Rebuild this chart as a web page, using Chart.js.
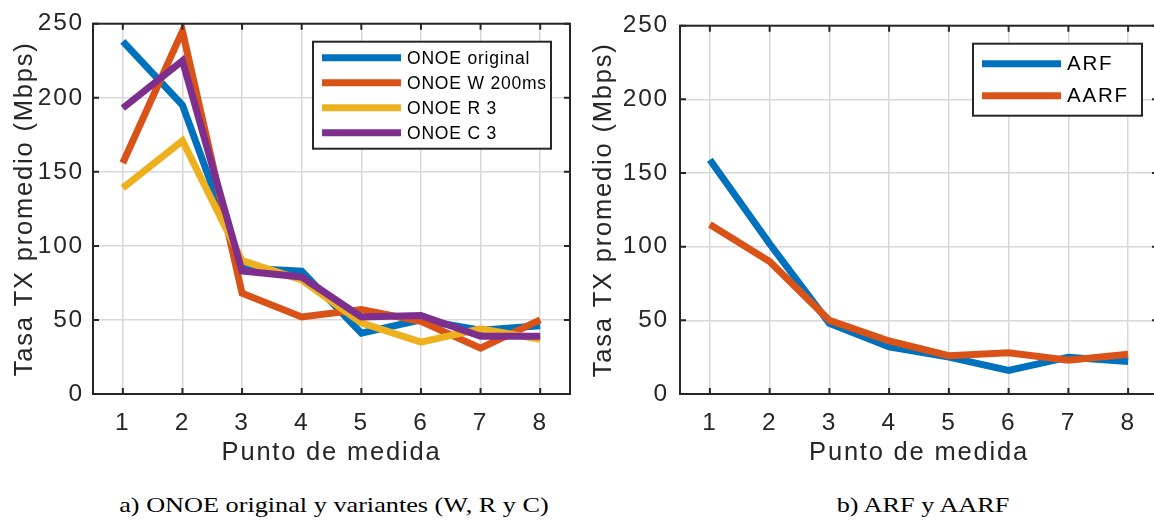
<!DOCTYPE html>
<html>
<head>
<meta charset="utf-8">
<script src="https://cdn.jsdelivr.net/npm/chart.js@4.4.1/dist/chart.umd.min.js"></script>
<style>
  html, body { margin: 0; padding: 0; background: #fff; overflow: hidden; width: 1154px; height: 520px; }
  .panel { position: absolute; top: 0; height: 470px; width: 600px; }
  #panelA { left: 0; }
  #panelB { left: 580px; }
  .pie {
    position: absolute; top: 490px; width: 600px; height: 30px; line-height: 30px;
    text-align: center; white-space: nowrap; color: #000;
    font-family: "Liberation Serif", "Times New Roman", serif; font-size: 21.5px;
    transform: scaleX(1.22);
  }
</style>
</head>
<body>
<div class="panel" id="panelA"><canvas id="graficoA"></canvas></div>
<div class="panel" id="panelB"><canvas id="graficoB"></canvas></div>
<div class="pie" style="left:33.5px">a) ONOE original y variantes (W, R y C)</div>
<div class="pie" style="left:622.5px">b) ARF y AARF</div>

<script>
// Puntos de medida (eje X) y rango del eje Y
const puntos = ["1", "2", "3", "4", "5", "6", "7", "8"];
const yMin = 0;
const yMax = 250;
const yPaso = 50;

// a) ONOE y variantes, tasa TX promedio en Mbps
const onoeOriginal = [238, 195, 85, 83, 41, 50, 43, 46];
const onoeW200 = [156, 245, 68, 52, 57, 49, 31, 50];
const onoeR3 = [139, 171, 90, 77, 48, 35, 44, 37];
const onoeC3 = [193, 225, 83, 79, 52, 53, 39, 39];

// b) ARF y AARF
const arf = [159, 102, 48, 32, 25, 16, 25, 22];
const aarf = [115, 90, 50, 36, 26, 28, 23, 27];

const azul = "#0072BD";
const naranja = "#D95319";
const amarillo = "#EDB120";
const morado = "#7E2F8E";

const fuente = "'Liberation Sans', Arial, Helvetica, sans-serif";
const gris = "#262626";

// caja de ejes, marcas hacia dentro y leyenda con fondo blanco
const marcoPlugin = {
    id: "marco",
    beforeDraw(chart) {
        chart.ctx.letterSpacing = "1.8px";
    },
    afterDatasetsDraw(chart, args, ley) {
        const { ctx, chartArea: a, scales: { x, y } } = chart;
        ctx.save();
        ctx.letterSpacing = "0px";
        ctx.strokeStyle = gris;
        ctx.lineWidth = 2;
        ctx.beginPath();
        x.ticks.forEach((t, i) => {
            const px = x.getPixelForTick(i);
            ctx.moveTo(px, a.bottom); ctx.lineTo(px, a.bottom - 6);
            ctx.moveTo(px, a.top); ctx.lineTo(px, a.top + 6);
        });
        y.ticks.forEach((t, i) => {
            const py = y.getPixelForTick(i);
            ctx.moveTo(a.left, py); ctx.lineTo(a.left + 6, py);
            ctx.moveTo(a.right, py); ctx.lineTo(a.right - 6, py);
        });
        ctx.stroke();
        ctx.strokeRect(a.left, a.top, a.width, a.height);

        // leyenda
        const bx = a.right - ley.dx - ley.ancho;
        const by = a.top + ley.dy;
        ctx.fillStyle = "#fff";
        ctx.fillRect(bx, by, ley.ancho, ley.alto);
        ctx.strokeStyle = gris;
        ctx.lineWidth = 2;
        ctx.strokeRect(bx, by, ley.ancho, ley.alto);
        ctx.font = ley.tam + "px " + fuente;
        ctx.letterSpacing = ley.espacio + "px";
        ctx.textBaseline = "middle";
        ctx.textAlign = "left";
        chart.data.datasets.forEach((ds, i) => {
            const cy = by + ley.primera + i * ley.fila;
            ctx.strokeStyle = ds.borderColor;
            ctx.lineWidth = 7;
            ctx.lineCap = "butt";
            ctx.beginPath();
            ctx.moveTo(bx + 9, cy);
            ctx.lineTo(bx + 88, cy);
            ctx.stroke();
            ctx.fillStyle = "#000";
            ctx.fillText(ds.label, bx + 94, cy + 1);
        });
        ctx.restore();
    }
};

function serie(label, valores, color, orden) {
    return {
        label: label,
        data: valores,
        borderColor: color,
        backgroundColor: color,
        order: orden
    };
}

function crearGrafico(id, datasets, anchoY, padDer, padTituloY, padTicksY, leyenda) {
    const ctx = document.getElementById(id).getContext("2d");
    return new Chart(ctx, {
        type: "line",
        data: { labels: puntos, datasets: datasets },
        options: {
            responsive: true,
            maintainAspectRatio: false,
            animation: false,
            layout: { padding: { left: 0, right: padDer, top: 18, bottom: 0 } },
            elements: {
                point: { radius: 0, hoverRadius: 0 },
                line: { borderWidth: 7, tension: 0, borderJoinStyle: "miter", borderCapStyle: "butt" }
            },
            plugins: {
                legend: { display: false },
                tooltip: { enabled: false },
                marco: leyenda
            },
            scales: {
                x: {
                    type: "category",
                    offset: true,
                    grid: { offset: false, color: "#d8d8d8", lineWidth: 1.5, drawTicks: false },
                    border: { display: false },
                    ticks: { color: gris, font: { family: fuente, size: 24.5 }, padding: 15, maxRotation: 0, autoSkip: false },
                    title: {
                        display: true, text: "Punto de medida", color: gris,
                        font: { family: fuente, size: 25.5 }, padding: { top: 0, bottom: 2 }
                    },
                    afterFit(s) { s.height = 76; }
                },
                y: {
                    min: yMin,
                    max: yMax,
                    grid: { color: "#d8d8d8", lineWidth: 1.5, drawTicks: false },
                    border: { display: false },
                    ticks: { stepSize: yPaso, color: gris, font: { family: fuente, size: 24.5 }, padding: padTicksY },
                    title: {
                        display: true, text: "Tasa TX promedio (Mbps)", color: gris,
                        font: { family: fuente, size: 25.5 }, padding: { top: padTituloY, bottom: 0 }
                    },
                    afterFit(s) { s.width = anchoY; }
                }
            }
        },
        plugins: [marcoPlugin]
    });
}

crearGrafico("graficoA", [
    serie("ONOE original", onoeOriginal, azul, 4),
    serie("ONOE W 200ms", onoeW200, naranja, 3),
    serie("ONOE R 3", onoeR3, amarillo, 2),
    serie("ONOE C 3", onoeC3, morado, 1)
], 93, 30, 10, 9, { dx: 19, dy: 18, ancho: 238, alto: 107, primera: 16, fila: 25, tam: 17.5, espacio: 0.8 });

crearGrafico("graficoB", [
    serie("ARF", arf, azul, 2),
    serie("AARF", aarf, naranja, 1)
], 100, 22, 9, 11, { dx: 16, dy: 18, ancho: 169, alto: 72, primera: 20, fila: 32, tam: 20.5, espacio: 1.8 });
</script>
</body>
</html>
